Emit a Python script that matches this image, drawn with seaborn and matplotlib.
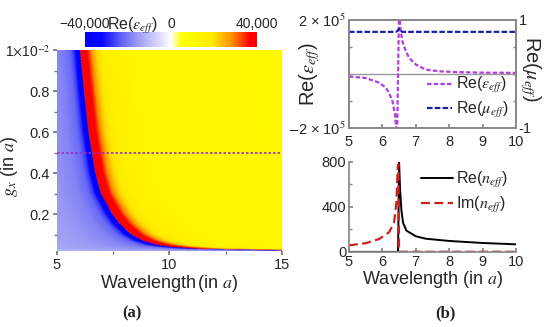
import numpy as np
import matplotlib
matplotlib.use('Agg')
import matplotlib.pyplot as plt
from matplotlib.colors import LinearSegmentedColormap
from matplotlib.ticker import FixedLocator
import seaborn as sns

# (a) blue/red boundary of the map (resonance wavelength) read for several g_x
gx_pts = [0.02, 0.03, 0.04, 0.05, 0.07, 0.10, 0.15, 0.20, 0.30, 0.40, 0.50, 0.60, 0.80, 1.00]
lam_res_pts = [16.0, 11.2, 10.0, 9.4, 8.8, 8.3, 7.8, 7.45, 6.95, 6.7, 6.55, 6.4, 6.2, 6.02]
# colour profile across the resonance: wavelength / resonance wavelength -> Re(eps_eff)
ratio_pts = [0.30, 0.50, 0.70, 0.85, 0.92, 0.95, 0.97, 0.999, 1.001, 1.03, 1.05, 1.08, 1.12, 1.20, 1.40, 3.00]
eps_map_pts = [-11e3, -13.5e3, -15.5e3, -18.5e3, -22e3, -27e3, -34e3, -60e3,
               60e3, 45e3, 37e3, 29e3, 21e3, 15e3, 11e3, 9e3]

# (b) top: Re(eps_eff) and Re(mu_eff) at g_x = 0.5
wl_eps = [5.0, 5.5, 5.9, 6.1, 6.2, 6.3, 6.38, 6.44, 6.5, 6.55, 6.6, 6.7, 6.8, 7.0, 7.3, 7.7, 8.2, 9.0, 10.0]
re_eps = [-0.09e5, -0.15e5, -0.32e5, -0.5e5, -0.7e5, -1.0e5, -1.5e5, -2.4e5, 2.4e5, 1.6e5,
          1.2e5, 0.86e5, 0.6e5, 0.35e5, 0.16e5, 0.1e5, 0.07e5, 0.05e5, 0.04e5]
wl_mu = [5.0, 6.4, 6.46, 6.5, 6.54, 6.6, 10.0]
re_mu = [0.78, 0.78, 0.80, 0.84, 0.80, 0.78, 0.78]

# (b) bottom: Re(n_eff) and Im(n_eff)
wl_re_n = [5.0, 6.47, 6.5, 6.53, 6.57, 6.62, 6.72, 7.0, 7.3, 8.0, 9.0, 10.0]
re_n = [1, 1, 800, 560, 370, 260, 190, 140, 118, 98, 80, 68]
wl_im_n = [5.0, 5.5, 5.9, 6.2, 6.35, 6.42, 6.46, 6.48, 6.5, 10.0]
im_n = [59, 78, 115, 175, 260, 440, 760, 780, 2, 2]

sns.set_theme(style='ticks')
plt.rcParams['font.family'] = ['Liberation Sans', 'DejaVu Sans']
plt.rcParams['mathtext.fontset'] = 'stix'

fig = plt.figure(figsize=(5.5, 3.27), dpi=100)

# ---------------- (a) map ----------------
ax_a = fig.add_axes([0.1036, 0.2324, 0.409, 0.6147])
lam = np.linspace(5, 15, 800)
gg = np.linspace(0.02, 1.0, 400)
lam_r = np.interp(gg, gx_pts, lam_res_pts)
ratio = lam[None, :] / lam_r[:, None]
field = np.interp(ratio.ravel(), ratio_pts, eps_map_pts).reshape(ratio.shape)

cmap = LinearSegmentedColormap.from_list('bwyr', [
    (0.0, '#0000ff'), (0.1, '#0808ff'), (0.2, '#5a5af8'), (0.3, '#9898f5'),
    (0.42, '#d4d4fa'), (0.5, '#ffffff'), (0.55, '#ffff30'), (0.58, '#ffff00'),
    (0.74, '#ffea00'), (0.86, '#ff8c00'), (0.96, '#ff0000'), (1.0, '#ff0000')])
im = ax_a.imshow(field, extent=[5, 15, 0.02, 1.0], origin='lower', aspect='auto',
                 cmap=cmap, vmin=-4e4, vmax=4e4, interpolation='bilinear')
ax_a.axhline(0.5, color='#9a2fc0', lw=1.2, ls=(0, (1.5, 1.2)))
for s in ax_a.spines.values():
    s.set_visible(False)
ax_a.set_xlim(5, 15)
ax_a.set_ylim(0.02, 1.0)
ax_a.set_xticks([5, 10, 15])
ax_a.xaxis.set_minor_locator(FixedLocator([7.5, 12.5]))
ax_a.set_yticks([0.2, 0.4, 0.6, 0.8, 1.0])
ax_a.set_yticklabels(['0.2', '0.4', '0.6', '0.8', r'1$\times$10$^{-2}$'])
ax_a.yaxis.set_minor_locator(FixedLocator([0.1, 0.3, 0.5, 0.7, 0.9]))
ax_a.tick_params(which='both', color='#777777', labelsize=10.5, pad=2)
ax_a.tick_params(which='major', length=3)
ax_a.tick_params(which='minor', length=2)
ax_a.get_yticklabels()[-1].set_fontsize(10)
ax_a.set_xlabel(r'Wavelength$\,$(in $a$)', fontsize=13, labelpad=1)
ax_a.set_ylabel(r'$g_x$ (in $a$)', fontsize=13)
ax_a.yaxis.set_label_coords(-0.165, 0.42)

cax = fig.add_axes([0.1545, 0.8563, 0.3127, 0.0459])
cb = fig.colorbar(im, cax=cax, orientation='horizontal')
cb.outline.set_visible(False)
cb.set_ticks([-40000, 0, 40000])
cb.set_ticklabels(['\u221240,000', '0', '40,000'])
cax.xaxis.set_ticks_position('top')
cax.tick_params(length=0, labelsize=10, pad=1)
fig.text(133 / 550, 1 - 30 / 327, r'Re($\varepsilon_{eff}$)', fontsize=11.5,
         ha='center', va='baseline')

# ---------------- (b) top ----------------
gray = '#888888'
ax_t = fig.add_axes([0.6345, 0.6086, 0.3036, 0.3303])
ax_t.axhline(0, color='#999999', lw=1)
sns.lineplot(x=wl_eps, y=re_eps, ax=ax_t, color='#b23ee0', lw=1.6,
             estimator=None, sort=False)
eps_line = ax_t.lines[-1]
eps_line.set_dashes([2, 1])
ax_t.set_xlim(5, 10)
ax_t.set_ylim(-2e5, 2e5)
ax_t.set_xticks([5, 6, 7, 8, 9, 10])
ax_t.set_yticks([-2e5, 2e5])
ax_t.set_yticklabels([r'$-$2 × 10$^5$', r'2 × 10$^5$'])
ax_t.yaxis.set_minor_locator(FixedLocator([-1e5, 0, 1e5]))
ax_t.set_ylabel(r'Re($\varepsilon_{eff}$)', fontsize=14.5)
ax_t.yaxis.set_label_coords(-0.16, 0.5)

ax_mu = ax_t.twinx()
sns.lineplot(x=wl_mu, y=re_mu, ax=ax_mu, color='#1c1ca8', lw=1.6,
             estimator=None, sort=False)
mu_line = ax_mu.lines[-1]
mu_line.set_dashes([2.5, 1])
ax_mu.set_ylim(-1, 1)
ax_mu.set_yticks([-1, 1])
ax_mu.set_yticklabels(['-1', '1'])
ax_mu.yaxis.set_minor_locator(FixedLocator([-0.5, 0, 0.5]))
ax_mu.set_ylabel(r'Re($\mu_{eff}$)', fontsize=14.5, rotation=270)
ax_mu.yaxis.set_label_coords(1.16, 0.55)
ax_mu.legend([eps_line, mu_line], [r'Re($\varepsilon_{eff}$)', r'Re($\mu_{eff}$)'],
             loc='lower right', frameon=False, fontsize=11.5, handlelength=1.6,
             handletextpad=0.2, borderaxespad=0.1, labelspacing=0.3)

# ---------------- (b) bottom ----------------
ax_b = fig.add_axes([0.6345, 0.2294, 0.3036, 0.2752])
sns.lineplot(x=wl_re_n, y=re_n, ax=ax_b, color='black', lw=1.4,
             estimator=None, sort=False)
re_line = ax_b.lines[-1]
sns.lineplot(x=wl_im_n, y=im_n, ax=ax_b, color='#cc2020', lw=1.6,
             estimator=None, sort=False)
im_line = ax_b.lines[-1]
im_line.set_dashes([4, 2])
ax_b.set_xlim(5, 10)
ax_b.set_ylim(0, 800)
ax_b.set_xticks([5, 6, 7, 8, 9, 10])
ax_b.set_yticks([0, 400, 800])
ax_b.yaxis.set_minor_locator(FixedLocator([200, 600]))
ax_b.set_xlabel(r'Wavelength (in $a$)', fontsize=13, labelpad=0)
ax_b.legend([re_line, im_line], [r'Re($n_{eff}$)', r'Im($n_{eff}$)'],
            loc='upper right', frameon=False, fontsize=11.5, handlelength=2.0,
            handletextpad=0.2, borderaxespad=0.1, labelspacing=0.3)

for ax in (ax_t, ax_mu, ax_b):
    for s in ax.spines.values():
        s.set_color(gray)
    ax.tick_params(which='both', direction='in', color=gray, labelsize=10.5, pad=2)
    ax.tick_params(which='major', length=3)
    ax.tick_params(which='minor', length=2)
ax_t.tick_params(axis='x', pad=5)
ax_b.spines['top'].set_visible(False)
ax_b.spines['right'].set_visible(False)

fig.text(132 / 550, 1 - 313 / 327, '(a)', fontsize=12, fontweight='bold',
         family=['Liberation Serif', 'DejaVu Serif'], ha='center', va='center')
fig.text(445 / 550, 1 - 313 / 327, '(b)', fontsize=12, fontweight='bold',
         family=['Liberation Serif', 'DejaVu Serif'], ha='center', va='center')

fig.savefig('out.png', dpi=100)
